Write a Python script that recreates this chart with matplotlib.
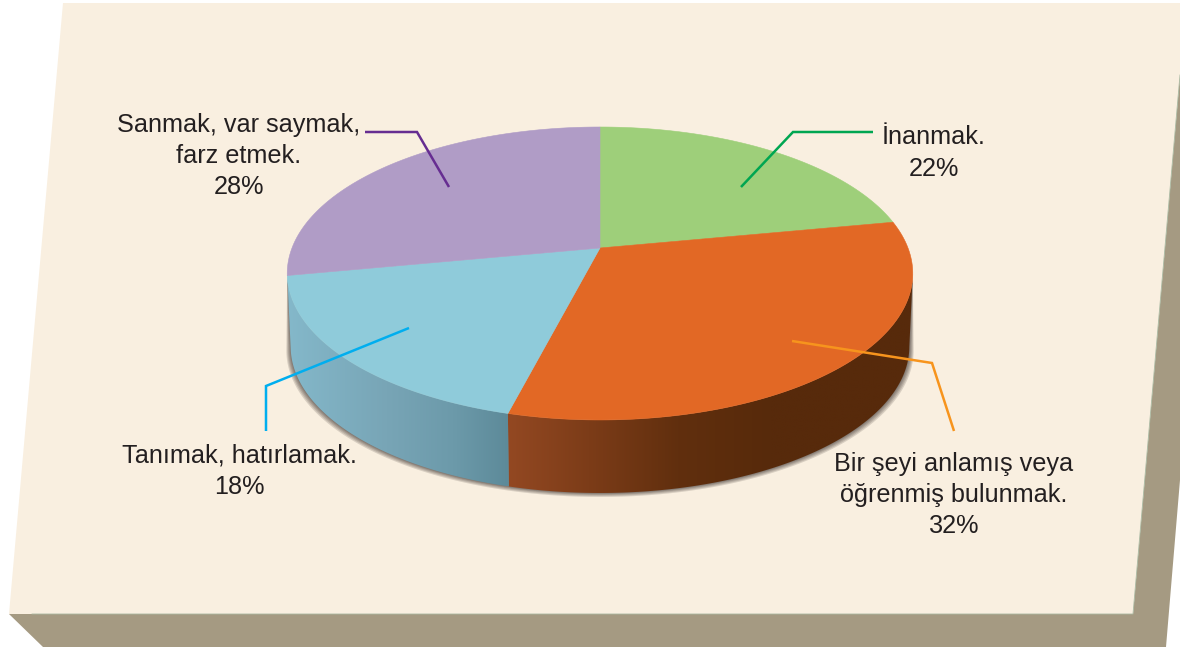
import numpy as np
import matplotlib
matplotlib.use('Agg')
import matplotlib.pyplot as plt
from matplotlib.patches import Polygon
from matplotlib.colors import LinearSegmentedColormap

plt.rcParams['font.family'] = ['Liberation Sans', 'DejaVu Sans']

# slices, clockwise from the top
labels = ['İnanmak.\n22%', 'Bir şeyi anlamış veya\nöğrenmiş bulunmak.\n32%',
          'Tanımak, hatırlamak.\n18%', 'Sanmak, var saymak,\nfarz etmek.\n28%']
values = [22, 32, 18, 28]
top_colors = ['#9ecf7a', '#e26825', '#8fcbda', '#b09cc6']
line_colors = ['#00a651', '#f7941d', '#00aeef', '#662d91']

# leader lines and label centres, image pixels
leaders = [[(741, 187), (793, 132), (873, 132)],
           [(792, 341), (932, 363), (954, 431)],
           [(409, 328), (266, 386), (266, 431)],
           [(365, 132), (417, 132), (449, 187)]]
label_pos = [(934, 153), (954, 495), (239, 471), (239, 156)]

PAPER = '#f9efe0'
SIDE = '#a59a82'

# perspective of the pie disc
CX, APEX_Y, RX, B, K = 600, 248, 308, -98.9, 0.174
DEPTH, SHRINK = 73, 0.989


def project(theta):
    u, v = np.cos(theta), np.sin(theta)
    d = 1 + K * v
    return CX + RX * u / d, (APEX_Y + B * v) / d


def lower(x, y, grow=1.0):
    return CX + (x - CX) * SHRINK * grow, y + DEPTH


fig = plt.figure(figsize=(11.8, 6.52), dpi=100, facecolor='white')
ax = fig.add_axes([0, 0, 1, 1])
ax.set_xlim(0, 1180)
ax.set_ylim(652, 0)
ax.axis('off')

# the board
ax.add_patch(Polygon([(9, 614), (1133, 614), (1180, 75), (1180, 480), (1166, 647), (43, 647)],
                     fc=SIDE, ec='none', zorder=1))
ax.add_patch(Polygon([(63, 3), (1180, 3), (1180, 75), (1133, 614), (9, 614)],
                     fc=PAPER, ec='none', zorder=1))
ax.plot([32, 1133, 1180], [614, 614, 75], color='#a9b8a0', lw=0.6, zorder=2)

fractions = np.cumsum([0] + values) / sum(values)
angles = np.pi / 2 - 2 * np.pi * fractions

# soft shadow under the wall
t = np.linspace(np.arcsin(-K), -np.pi - np.arcsin(-K), 200)
x, y = project(t)
bx, by = lower(x, y)
for g, off in zip([1.014, 1.011, 1.008, 1.005, 1.002], [4, 3, 2, 1.2, 0.5]):
    lx, ly = lower(x, y, g)
    ax.add_patch(Polygon(np.column_stack([np.r_[x, lx[::-1]], np.r_[y, ly[::-1] + off]]),
                         fc='#3a302c', ec='none', alpha=0.17, zorder=3))

# side wall with its horizontal gradients
wall_maps = {
    1: LinearSegmentedColormap.from_list('w1', [(0, '#934822'), (0.2, '#7c3c18'), (0.42, '#612f0e'),
                                                (0.65, '#572a0b'), (1, '#572a0b')]),
    2: LinearSegmentedColormap.from_list('w2', [(0, '#84b8ca'), (0.45, '#78a5b6'), (0.75, '#6c9aaa'),
                                                (1, '#5d8a99')]),
}
grad = np.linspace(0, 1, 256).reshape(1, -1)
for i, cmap in wall_maps.items():
    t = np.linspace(angles[i], angles[i + 1], 200)
    # only the part of the rim that faces the viewer
    t = t[np.sin(t) <= -K]
    tx, ty = project(t)
    bx, by = lower(tx, ty)
    pts = np.vstack([np.column_stack([tx, ty]), np.column_stack([bx, by])[::-1]])
    clip = Polygon(pts, transform=ax.transData, fc='none', ec='none')
    ax.add_patch(clip)
    x0, x1 = pts[:, 0].min(), pts[:, 0].max()
    im = ax.imshow(grad, extent=[x0, x1, pts[:, 1].max(), pts[:, 1].min()], cmap=cmap,
                   aspect='auto', zorder=4, interpolation='bilinear')
    im.set_clip_path(clip)
ax.set_xlim(0, 1180)
ax.set_ylim(652, 0)

# top of the pie
for i, col in enumerate(top_colors):
    t = np.linspace(angles[i], angles[i + 1], 120)
    tx, ty = project(t)
    px = np.concatenate([[CX], tx])
    py = np.concatenate([[APEX_Y], ty])
    ax.add_patch(Polygon(np.column_stack([px, py]), fc=col, ec=col, lw=0.4, zorder=5))

for pts, col in zip(leaders, line_colors):
    xs, ys = zip(*pts)
    ax.plot(xs, ys, color=col, lw=1.8, solid_joinstyle='miter', solid_capstyle='butt', zorder=6)

for lab, pos in zip(labels, label_pos):
    ax.text(pos[0], pos[1], lab, ha='center', va='center', fontsize=18.2, color='#231f20',
            linespacing=1.37, zorder=7)

fig.savefig('out.png', dpi=100, facecolor='white')
